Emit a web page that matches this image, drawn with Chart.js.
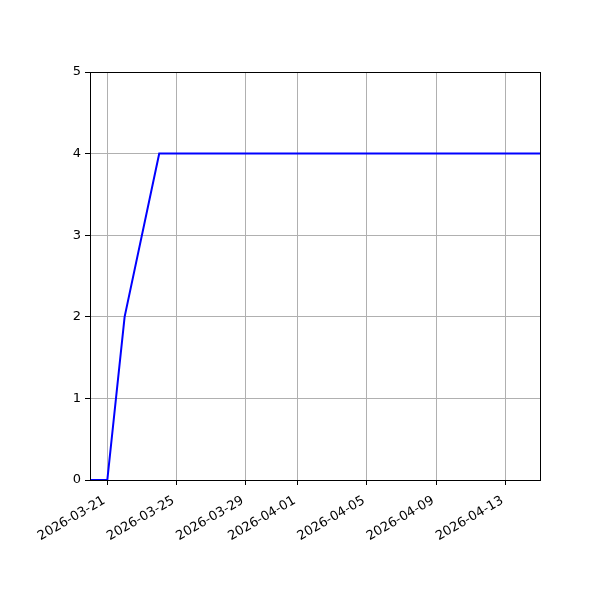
<!DOCTYPE html>
<html>
<head>
<meta charset="utf-8">
<script src="https://cdn.jsdelivr.net/npm/chart.js@4/dist/chart.umd.min.js"></script>
<style>
  html, body { margin: 0; padding: 0; background: #fff; }
  #wrap { width: 600px; height: 600px; }
</style>
</head>
<body>
<div id="wrap"><canvas id="c"></canvas></div>
<script>
const START = '2026-03-20';
const END = '2026-04-15';
const dates = ['2026-03-20', '2026-03-21', '2026-03-22', '2026-03-24', '2026-04-15'];
const counts = [0, 0, 2, 4, 4];
const xTickLabels = ['2026-03-21', '2026-03-25', '2026-03-29', '2026-04-01', '2026-04-05', '2026-04-09', '2026-04-13'];
const yTicks = [0, 1, 2, 3, 4, 5];

const DAY = 86400000;
const dayOf = s => Math.round((Date.parse(s) - Date.parse(START)) / DAY);

const FONT = { family: 'DejaVu Sans', size: 13 };

// matplotlib style closed frame around the axes
const frame = {
    id: 'frame',
    afterDraw(chart) {
        const a = chart.chartArea, ctx = chart.ctx;
        ctx.save();
        ctx.strokeStyle = '#000';
        ctx.lineWidth = 1;
        ctx.strokeRect(Math.round(a.left) + 0.5, Math.round(a.top) + 0.5,
            Math.round(a.right - a.left), Math.round(a.bottom - a.top));
        ctx.restore();
    }
};

new Chart(document.getElementById('c'), {
    type: 'line',
    data: {
        datasets: [{
            data: dates.map((d, i) => ({ x: dayOf(d), y: counts[i] })),
            borderColor: '#0000ff',
            borderWidth: 2,
            pointRadius: 0,
            tension: 0,
            fill: false
        }]
    },
    options: {
        responsive: true,
        maintainAspectRatio: false,
        animation: false,
        events: [],
        layout: { padding: { left: 0, right: 60, top: 72, bottom: 0 } },
        plugins: { legend: { display: false }, tooltip: { enabled: false } },
        scales: {
            x: {
                type: 'linear',
                min: 0,
                max: dayOf(END),
                afterBuildTicks: s => { s.ticks = xTickLabels.map(l => ({ value: dayOf(l) })); },
                afterFit: s => { s.height = 120; },
                ticks: {
                    callback: v => xTickLabels.find(l => dayOf(l) === v) || '',
                    minRotation: 30,
                    maxRotation: 30,
                    autoSkip: false,
                    color: '#000',
                    font: FONT,
                    padding: 8,
                    labelOffset: -3
                },
                grid: { color: '#b0b0b0', lineWidth: 1, tickColor: '#000', tickLength: 5 },
                border: { color: '#000', width: 1 }
            },
            y: {
                min: 0,
                max: 5,
                afterBuildTicks: s => { s.ticks = yTicks.map(v => ({ value: v })); },
                afterFit: s => { s.width = 90; },
                ticks: { color: '#000', font: FONT, padding: 4 },
                grid: { color: '#b0b0b0', lineWidth: 1, tickColor: '#000', tickLength: 5 },
                border: { color: '#000', width: 1 }
            }
        }
    },
    plugins: [frame]
});
</script>
</body>
</html>
